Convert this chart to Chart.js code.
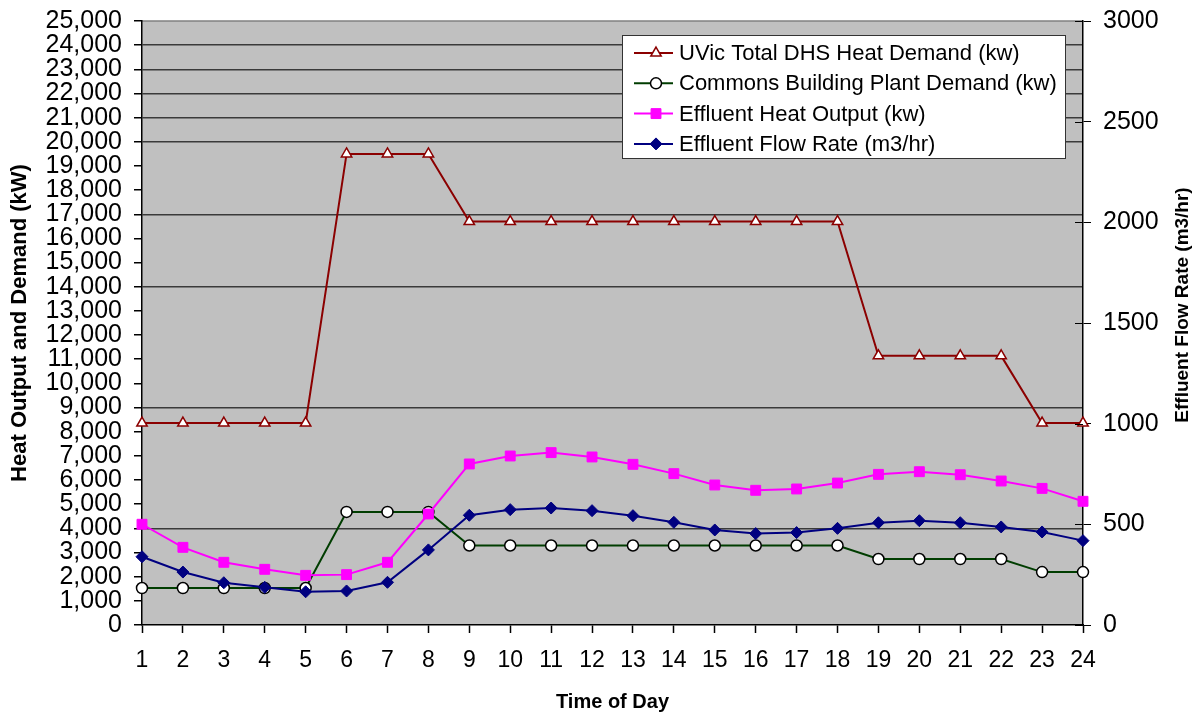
<!DOCTYPE html>
<html>
<head>
<meta charset="utf-8">
<script src="https://cdn.jsdelivr.net/npm/chart.js@4.4.1/dist/chart.umd.min.js"></script>
<style>
  html, body { margin: 0; padding: 0; background: #fff; }
  .wrap { position: relative; width: 1199px; height: 715px; }
</style>
</head>
<body>
<div class="wrap"><canvas id="heatChart"></canvas></div>
<script>
// time of day (hours)
const hours = ['1','2','3','4','5','6','7','8','9','10','11','12','13','14','15','16','17','18','19','20','21','22','23','24']

// left axis series (kW)
const uvicDemand = [8360,8360,8360,8360,8360,19500,19500,19500,16700,16700,16700,16700,16700,16700,16700,16700,16700,16700,11140,11140,11140,11140,8360,8360]
const commonsDemand = [1530,1530,1530,1530,1530,4680,4680,4680,3290,3290,3290,3290,3290,3290,3290,3290,3290,3290,2730,2730,2730,2730,2190,2190]
const effluentHeat = [4170,3215,2595,2305,2055,2085,2595,4595,6665,6995,7135,6955,6650,6265,5795,5575,5630,5875,6235,6345,6220,5960,5655,5120]

// right axis series (m3/hr)
const effluentFlow = [339,263,210,187,165,169,212,373,545,573,581,568,543,510,472,454,459,480,508,518,508,487,462,419]

// gridlines that show in the original
const shownGrid = [4000,9000,14000,17000,20000,21000,22000,23000,24000]

const rightTitle = 'Effluent Flow Rate (m3/hr)'

const bgPlugin = {
	id: 'plotBg',
	beforeDraw(chart) {
		const a = chart.chartArea, ctx = chart.ctx
		ctx.save()
		ctx.fillStyle = '#c0c0c0'
		ctx.fillRect(a.left, a.top, a.right - a.left, a.bottom - a.top)
		ctx.strokeStyle = '#808080'
		ctx.lineWidth = 1.5
		ctx.beginPath()
		ctx.moveTo(a.left, a.top)
		ctx.lineTo(a.right, a.top)
		ctx.stroke()
		ctx.restore()
	},
	afterDraw(chart) {
		// right axis: ticks also reach into the plot, title reads bottom-up
		const ctx = chart.ctx, a = chart.chartArea, s = chart.scales.y1
		ctx.save()
		ctx.strokeStyle = '#000'
		ctx.lineWidth = 1
		s.ticks.forEach(t => {
			const py = Math.round(s.getPixelForValue(t.value)) + 0.5
			ctx.beginPath()
			ctx.moveTo(a.right - 8, py)
			ctx.lineTo(a.right, py)
			ctx.stroke()
		})
		ctx.translate(1183, (a.top + a.bottom) / 2 - 18)
		ctx.rotate(-Math.PI / 2)
		ctx.font = 'bold 19px "Liberation Sans", Arial, sans-serif'
		ctx.fillStyle = '#000'
		ctx.textAlign = 'center'
		ctx.textBaseline = 'middle'
		ctx.fillText(rightTitle, 0, 0)
		ctx.restore()
	}
}

const legendPlugin = {
	id: 'boxLegend',
	afterDraw(chart) {
		const ctx = chart.ctx
		const a = chart.chartArea
		const w = 443, h = 123
		const x0 = a.right - 18 - w, y0 = a.top + 14
		ctx.save()
		ctx.fillStyle = '#fff'
		ctx.fillRect(x0, y0, w, h)
		ctx.strokeStyle = '#333'
		ctx.lineWidth = 1
		ctx.strokeRect(x0 + 0.5, y0 + 0.5, w, h)
		ctx.font = '22px "Liberation Sans", Arial, sans-serif'
		ctx.textBaseline = 'middle'
		chart.data.datasets.forEach((ds, i) => {
			const y = y0 + 18 + i * 30.3
			ctx.strokeStyle = ds.borderColor
			ctx.lineWidth = 2
			ctx.beginPath()
			ctx.moveTo(x0 + 12, y)
			ctx.lineTo(x0 + 51, y)
			ctx.stroke()
			ctx.fillStyle = ds.pointBackgroundColor
			ctx.strokeStyle = ds.pointBorderColor
			ctx.lineWidth = ds.pointBorderWidth
			Chart.helpers.drawPoint(ctx, {pointStyle: ds.pointStyle, radius: ds.pointRadius, rotation: 0, borderWidth: ds.pointBorderWidth}, x0 + 34, y)
			ctx.fillStyle = '#000'
			ctx.fillText(ds.label, x0 + 57, y + 1)
		})
		ctx.restore()
	}
}

Chart.defaults.font.family = '"Liberation Sans", Arial, sans-serif'
Chart.defaults.color = '#000'

const ctx = document.getElementById('heatChart').getContext('2d')
const heatChart = new Chart(ctx, {
	type: 'line',
	data: {
		labels: hours,
		datasets: [{
			label: 'UVic Total DHS Heat Demand (kw)',
			data: uvicDemand,
			yAxisID: 'y',
			borderColor: '#8b0000',
			borderWidth: 2,
			pointStyle: 'triangle',
			pointRadius: 6,
			pointBackgroundColor: '#fff',
			pointBorderColor: '#8b0000',
			pointBorderWidth: 1.5,
			order: 3
		}, {
			label: 'Commons Building Plant Demand (kw)',
			data: commonsDemand,
			yAxisID: 'y',
			borderColor: '#003d00',
			borderWidth: 2,
			pointStyle: 'circle',
			pointRadius: 5.5,
			pointBackgroundColor: '#fff',
			pointBorderColor: '#000',
			pointBorderWidth: 1.5,
			order: 2
		}, {
			label: 'Effluent Heat Output (kw)',
			data: effluentHeat,
			yAxisID: 'y',
			borderColor: '#ff00ff',
			borderWidth: 2,
			pointStyle: 'rect',
			pointRadius: 7,
			pointBackgroundColor: '#ff00ff',
			pointBorderColor: '#ff00ff',
			pointBorderWidth: 1,
			order: 1
		}, {
			label: 'Effluent Flow Rate (m3/hr)',
			data: effluentFlow,
			yAxisID: 'y1',
			borderColor: '#000080',
			borderWidth: 2,
			pointStyle: 'rectRot',
			pointRadius: 6,
			pointBackgroundColor: '#000080',
			pointBorderColor: '#000080',
			pointBorderWidth: 1,
			order: 0
		}]
	},
	options: {
		responsive: true,
		maintainAspectRatio: false,
		animation: false,
		layout: { padding: { top: 21, left: 0, right: 0, bottom: 0 } },
		plugins: {
			legend: { display: false },
			tooltip: { enabled: false }
		},
		elements: { line: { tension: 0 } },
		scales: {
			x: {
				offset: false,
				grid: { drawOnChartArea: false, tickLength: 8, tickColor: '#000', tickWidth: 1.5 },
				border: { color: '#000', width: 1.5 },
				ticks: { font: { size: 23 }, padding: 14, maxRotation: 0, autoSkip: false },
				title: { display: true, text: 'Time of Day', font: { size: 20, weight: 'bold' }, padding: { top: 0, bottom: 1 } },
				afterFit(scale) { scale.height = 90; scale.paddingLeft = 0; scale.paddingRight = 0 }
			},
			y: {
				position: 'left',
				min: 0,
				max: 25000,
				grid: {
					color: c => (c.tick && shownGrid.includes(c.tick.value)) ? '#3a3a3a' : 'rgba(0,0,0,0)',
					lineWidth: 1.5,
					tickLength: 8,
					tickColor: '#000'
				},
				border: { color: '#000', width: 1.5 },
				ticks: {
					stepSize: 1000,
					autoSkip: false,
					padding: 12,
					font: { size: 25 },
					callback: v => v.toLocaleString('en-US')
				},
				title: { display: true, text: 'Heat Output and Demand (kW)', font: { size: 22, weight: 'bold' }, padding: { top: 7, bottom: 0 } },
				afterFit(scale) { scale.width = 142; scale.paddingTop = 0; scale.paddingBottom = 0 }
			},
			y1: {
				position: 'right',
				min: 0,
				max: 3000,
				grid: { drawOnChartArea: false, tickLength: 8, tickColor: '#000' },
				border: { color: '#000', width: 1.5 },
				ticks: {
					stepSize: 500,
					autoSkip: false,
					padding: 12,
					font: { size: 25 },
					callback: v => String(v)
				},
				title: { display: false },
				afterFit(scale) { scale.width = 116; scale.paddingTop = 0; scale.paddingBottom = 0 }
			}
		}
	},
	plugins: [bgPlugin, legendPlugin]
})
</script>
</body>
</html>
